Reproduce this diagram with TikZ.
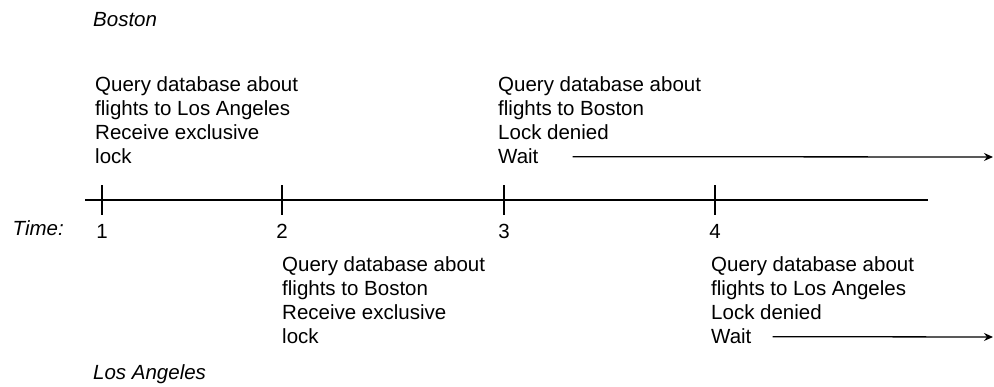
\documentclass[tikz,border=0pt]{standalone}
\usepackage{fontspec}
\setmainfont{Liberation Sans}
\usetikzlibrary{arrows.meta}
\begin{document}
\begin{tikzpicture}[x=1pt,y=-1pt,
  txt/.style={inner sep=0pt, anchor=base west, align=left, font=\fontsize{20.5}{24}\selectfont},
  lbl/.style={inner sep=0pt, anchor=base west, font=\fontsize{20.5}{24}\selectfont\itshape},
  num/.style={inner sep=0pt, anchor=base, font=\fontsize{20.5}{24}\selectfont},
  axis/.style={line width=1.6pt},
  tick/.style={line width=1.6pt},
  arr/.style={line width=1.3pt, -{Stealth[length=9pt,width=8pt,inset=3pt]}}]
\useasboundingbox (0,0) rectangle (994,387);
% labels
\node[lbl] (boston) at (93,27) {Boston};
\node[lbl] (la) at (93,380) {Los Angeles};
\node[lbl, anchor=base east] (time) at (64,236) {Time:};
% axis
\coordinate (a0) at (85,200);
\coordinate (a1) at (928,200);
\draw[axis] (a0) -- (a1);
\foreach \i/\x in {1/102,2/282,3/504,4/715}{
  \coordinate (t\i) at (\x,200);
  \draw[tick] ([yshift=-15pt]t\i) -- ([yshift=15pt]t\i);
  \node[num] (n\i) at (\x,239) {\i};
}
% Boston events (base = baseline of last line)
\node[txt] (b1) at (95,164) {Query database about\\flights to Los Angeles\\Receive exclusive\\lock};
\node[txt] (b3) at (498,140) {Query database about\\flights to Boston\\Lock denied};
\node[txt] (w3) at (498,164) {Wait};
\coordinate (e3) at (993,157);
\draw[arr] ([xshift=34pt]w3.east) -- (e3);
% Los Angeles events
\node[txt] (l2) at (282,344) {Query database about\\flights to Boston\\Receive exclusive\\lock};
\node[txt] (l4) at (711,320) {Query database about\\flights to Los Angeles\\Lock denied};
\node[txt] (w4) at (711,344) {Wait};
\coordinate (e4) at (993,337);
\draw[arr] ([xshift=21pt]w4.east) -- (e4);
\end{tikzpicture}
\end{document}
